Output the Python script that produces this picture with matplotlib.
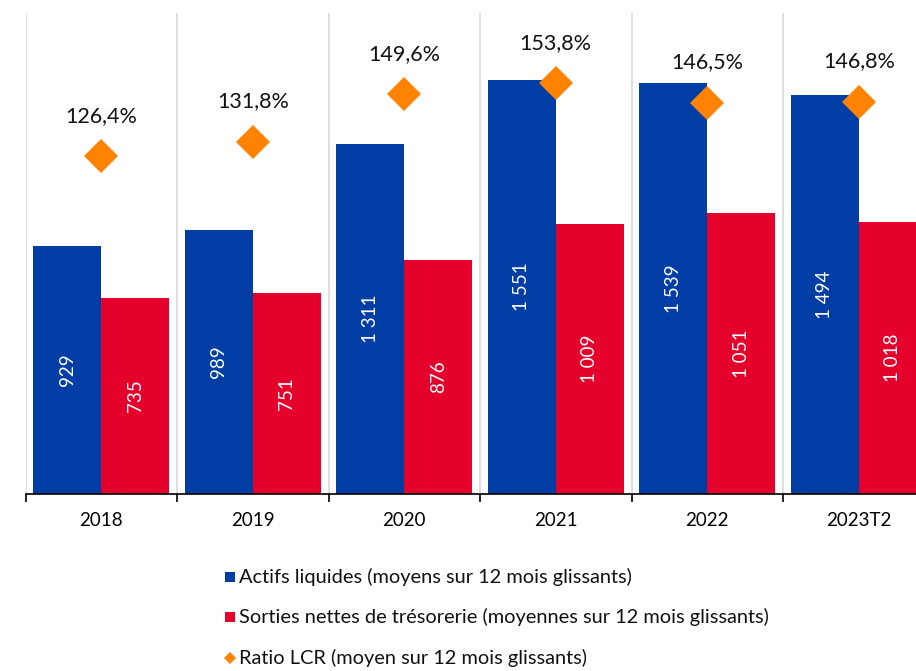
import matplotlib
matplotlib.use("Agg")
import matplotlib.pyplot as plt
from matplotlib.lines import Line2D
import numpy as np

categories = ["2018", "2019", "2020", "2021", "2022", "2023T2"]
actifs = [929, 989, 1311, 1551, 1539, 1494]
sorties = [735, 751, 876, 1009, 1051, 1018]
ratio = [126.4, 131.8, 149.6, 153.8, 146.5, 146.8]
legend_labels = [
    "Actifs liquides (moyens sur 12 mois glissants)",
    "Sorties nettes de trésorerie (moyennes sur 12 mois glissants)",
    "Ratio LCR (moyen sur 12 mois glissants)",
]

BLUE = "#003DA5"
RED = "#E4002B"
ORANGE = "#FF8300"
FONT = ["Lato", "DejaVu Sans"]
plt.rcParams["font.family"] = FONT

W, H = 916, 671
fig = plt.figure(figsize=(W / 100, H / 100), dpi=100)
ax = fig.add_axes([25.5 / W, 177 / H, 909 / W, 481 / H])

x = np.arange(len(categories))
w = 0.45
b1 = ax.bar(x - w / 2, actifs, w, color=BLUE, zorder=2)
b2 = ax.bar(x + w / 2, sorties, w, color=RED, zorder=2)

def fmt(v):
    return f"{v:,}".replace(",", " ")

for rect, v in zip(b1, actifs):
    ax.text(rect.get_x() + rect.get_width() / 2, v / 2, fmt(v), rotation=90,
            ha="center", va="center", color="white", fontsize=13.5, zorder=3)
for rect, v in zip(b2, sorties):
    ax.text(rect.get_x() + rect.get_width() / 2, v / 2, fmt(v), rotation=90,
            ha="center", va="center", color="white", fontsize=13.5, zorder=3)

ax.set_xlim(-0.5, len(categories) - 0.5)
ax.set_ylim(0, 1800)
ax.set_yticks([])
for s in ["top", "right", "left"]:
    ax.spines[s].set_visible(False)
ax.spines["bottom"].set_color("black")
ax.spines["bottom"].set_linewidth(1.2)
ax.set_xticks(x)
ax.set_xticklabels(categories, fontsize=13.5)
ax.tick_params(axis="x", which="major", length=0, pad=13)
ax.set_xticks(np.arange(len(categories) + 1) - 0.5, minor=True)
ax.tick_params(axis="x", which="minor", length=6, width=1.2, color="black")
for b in np.arange(len(categories)) - 0.5:
    ax.axvline(b, color="#d9d9d9", lw=1.2, zorder=1)

ax2 = ax.twinx()
ax2.set_ylim(0, 180)
ax2.set_yticks([])
for s in ["top", "right", "left", "bottom"]:
    ax2.spines[s].set_visible(False)
ax2.plot(x, ratio, linestyle="none", marker="D", markersize=17,
         color=ORANGE, markeredgewidth=0, zorder=4)
for xi, r in zip(x, ratio):
    ax2.annotate(f"{r:.1f}%".replace(".", ","), (xi, r), xytext=(0, 29),
                 textcoords="offset points", ha="center", va="center",
                 fontsize=15.5, color="#111111")

# legend (manual, figure pixel coords)
leg_rows_y = [577, 617, 658]
leg_markers = [("s", BLUE, 7.5), ("s", RED, 7.5), ("D", ORANGE, 6.5)]
for (m, c, ms), lab, yy in zip(leg_markers, legend_labels, leg_rows_y):
    fy = 1 - yy / H
    fig.add_artist(Line2D([230 / W], [fy], marker=m, color=c, markersize=ms,
                          markeredgewidth=0, linestyle="none",
                          transform=fig.transFigure))
    fig.text(239 / W, fy, lab, ha="left", va="center", fontsize=14.4,
             color="#111111")

fig.savefig("out.png", dpi=100)
